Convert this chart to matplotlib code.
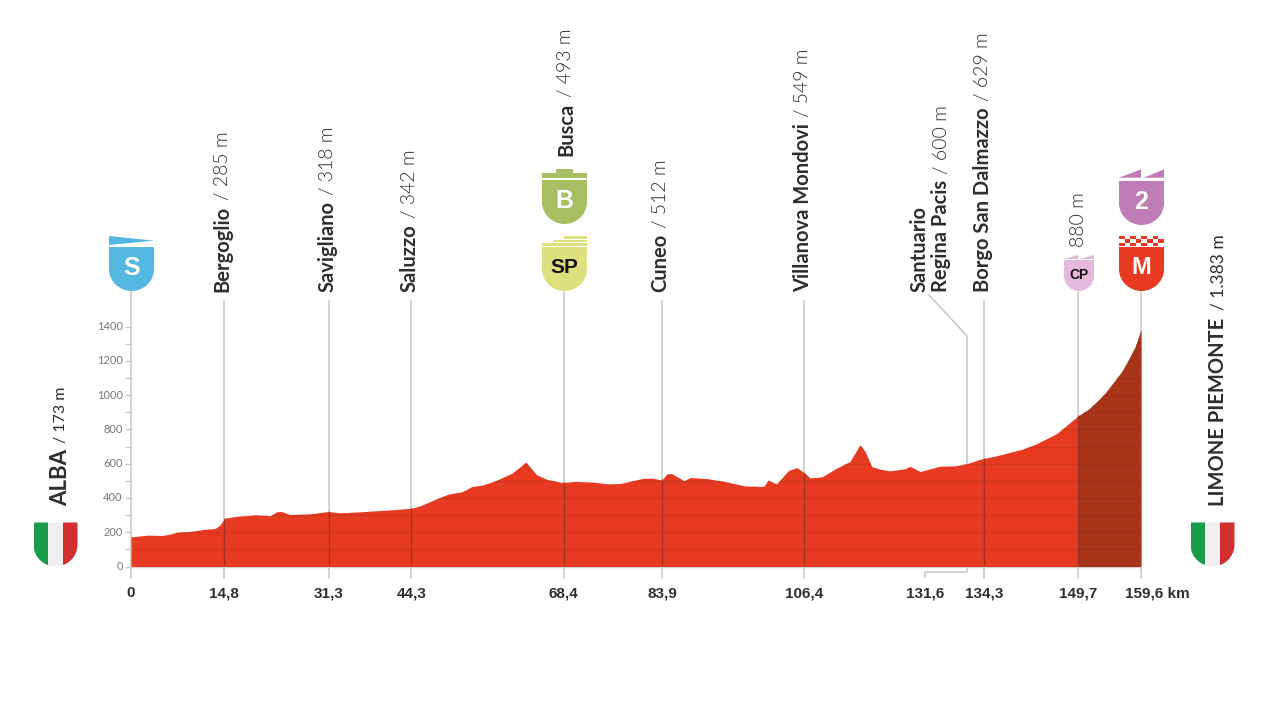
import numpy as np
import matplotlib
matplotlib.use('Agg')
import matplotlib.pyplot as plt
from matplotlib.patches import PathPatch, Polygon, Rectangle
from matplotlib.path import Path

# profile
km = [0, 2.7, 4.9, 6.2, 7.2, 9.3, 11.4, 13.3, 14.1, 14.8, 17, 19.9, 22, 23, 23.8, 25.1, 28.3, 31.2, 33, 36.2,
      40.9, 44.3, 45.7, 48.3, 50.1, 52.3, 53.9, 55.4, 57.3, 60.2, 62.4, 64.1, 65.7, 68.05, 70.4, 73.1, 75.4,
      77.3, 81, 82.5, 83.9, 84.65, 85.45, 87.4, 88.3, 91, 94.1, 97, 100, 100.7, 102, 103.9, 105.2, 106.5,
      107.3, 109.2, 111.5, 113.6, 115.2, 116, 117.06, 118.36, 119.9, 122.3, 123.1, 124.7, 127.8, 130.2,
      132.2, 134.2, 136.8, 141, 143.1, 146.3, 149.7, 151.2, 152.6, 154, 155.2, 156.5, 157.6, 158.7, 159.6]
elev = [173, 183, 181, 189, 200, 204, 216, 222, 243, 282, 294, 301, 296, 319, 321, 303, 307, 321, 313, 319,
        330, 340, 354, 395, 422, 436, 467, 474, 496, 544, 609, 535, 509, 490, 496, 492, 482,
        484, 515, 515, 504, 540, 542, 500, 519, 513, 494, 470, 467, 504, 482, 560, 577, 544,
        517, 523, 574, 612, 710, 671, 583, 568, 558, 570, 585, 554, 585, 587,
        601, 626, 646, 686, 716, 776, 880, 915, 962, 1015, 1073, 1135, 1205, 1285, 1383]

# the drawn marker for 134,3 sits a little right of its true distance in the original
km_ticks = [0, 14.7, 31.3, 44.3, 68.4, 83.9, 106.4, 134.8, 149.7, 159.6]
km_labels = ['0', '14,8', '31,3', '44,3', '68,4', '83,9', '106,4', '134,3', '149,7', '159,6 km']
y_labels = [0, 200, 400, 600, 800, 1000, 1200, 1400]

RED = '#e63b21'
DARK = '#a8341a'
INK = '#2e2e2e'
HEAD = 'Liberation Sans'

fig = plt.figure(figsize=(12.8, 7.2), dpi=100)
ax = fig.add_axes([131 / 1280, (720 - 566.5) / 720, 1010 / 1280, 240 / 720])
ax.set_xlim(0, 159.6)
ax.set_ylim(0, 1400)
ax.axis('off')

# overlay in pixels for labels and shields
ov = fig.add_axes([0, 0, 1, 1], zorder=0)
ov.set_xlim(0, 1280)
ov.set_ylim(720, 0)
ov.axis('off')
ax.set_zorder(1)
ax.patch.set_alpha(0)
renderer = fig.canvas.get_renderer()


def px(k):
    return 131 + k * 1010 / 159.6


def shield_path(x0, y0, w, h):
    x1, xm, y1 = x0 + w, x0 + w / 2, y0 + h
    mid = y0 + h * 0.5
    verts = [(x0, y0), (x1, y0), (x1, mid), (x1, y1 - h * 0.2), (xm + w * 0.25, y1), (xm, y1),
             (xm - w * 0.25, y1), (x0, y1 - h * 0.2), (x0, mid), (x0, y0)]
    codes = [Path.MOVETO, Path.LINETO, Path.LINETO, Path.CURVE4, Path.CURVE4, Path.CURVE4,
             Path.CURVE4, Path.CURVE4, Path.CURVE4, Path.CLOSEPOLY]
    return Path(verts, codes)


def shield(cx, y0, w, h, color, letter, txt='white', size=18):
    ov.add_patch(PathPatch(shield_path(cx - w / 2, y0, w, h), fc=color, ec='none', zorder=3))
    ov.text(cx, y0 + h * 0.47, letter, color=txt, fontsize=size, fontweight='bold', family=HEAD,
            ha='center', va='center', zorder=4)


def flag(x0):
    base = PathPatch(shield_path(x0, 522.5, 44, 44), fc='none', ec='none')
    ov.add_patch(base)
    for i, c in enumerate(['#1a9b4a', '#efefef', '#d22f2f']):
        r = Rectangle((x0 + i * 44 / 3, 522), 44 / 3, 45, fc=c, ec='none')
        ov.add_patch(r)
        r.set_clip_path(base)


def rot_label(x, y_bottom, parts, gap=6):
    # vertical label made of stacked pieces, bold name then thin height
    y = y_bottom
    for s, weight, size, family in parts:
        t = ov.text(x, y, s, rotation=90, ha='center', va='bottom', fontsize=size, fontweight=weight,
                    family=family, color=INK)
        y -= t.get_window_extent(renderer).height + gap


# profile
ax.fill_between(km, 0, elev, where=[k <= 149.7 for k in km], color=RED, lw=0, zorder=2)
ax.fill_between(km, 0, elev, where=[k >= 149.7 for k in km], color=DARK, lw=0, zorder=2)
full_fill = ax.fill_between(km, 0, elev, color='none', lw=0, zorder=2)

stripes = ax.hlines(np.arange(100, 1400, 100), 0, 159.6, color='#8f2410', alpha=0.22, lw=1, zorder=3)
stripes.set_clip_path(full_fill.get_paths()[0], full_fill.get_transform())

# stage markers, grey above the profile and dark inside it
ax.axhline(0, color='#cfcfcf', lw=1, zorder=1, clip_on=False)
for k in km_ticks:
    top = 292 if k in (0, 68.4, 149.7, 159.6) else 301
    ov.plot([px(k), px(k)], [top, 578], color='#c6c6c6', lw=1.1, zorder=1)
dark_lines = ax.vlines(km_ticks[1:-1], -50, 1400, color='#7a2a18', alpha=0.6, lw=1, zorder=4)
dark_lines.set_clip_path(full_fill.get_paths()[0], full_fill.get_transform())

# y scale
for v in range(0, 1500, 100):
    ax.plot([-0.85, 0], [v, v], color='#c9c9c9', lw=1, clip_on=False)
for v in y_labels:
    ax.text(-1.3, v, str(v), ha='right', va='center', fontsize=8, color='#777777', family='Lato', clip_on=False)

# km labels
for k, s in zip(km_ticks, km_labels):
    x, ha = (px(k) - 16, 'left') if s.endswith('km') else (px(k), 'center')
    ov.text(x, 593, s, ha=ha, va='center', fontsize=11, fontweight='bold', family=HEAD, color=INK)
ov.text(925, 593, '131,6', ha='center', va='center', fontsize=11, fontweight='bold', family=HEAD, color=INK)

# Santuario connector
ov.plot([929, 967, 967, 925, 925], [295, 336, 572, 572, 577], color='#c6c6c6', lw=1.1, zorder=1)

# place labels
BOLD = 14.5
THIN = 14
for k, name, h in [(14.7, 'Bergoglio', '/ 285 m'), (31.3, 'Savigliano', '/ 318 m'), (44.3, 'Saluzzo', '/ 342 m'),
                   (83.9, 'Cuneo', '/ 512 m'), (106.4, 'Villanova Mondovi', '/ 549 m'),
                   (134.8, 'Borgo San Dalmazzo', '/ 629 m')]:
    rot_label(px(k) - 1.5, 292, [(name, 'bold', BOLD, 'Lato'), (h, 300, THIN, 'Lato')])
rot_label(566, 156, [('Busca', 'bold', BOLD, 'Lato'), ('/ 493 m', 300, THIN, 'Lato')])
rot_label(920, 292, [('Santuario', 'bold', BOLD, 'Lato')])
rot_label(941, 292, [('Regina Pacis', 'bold', BOLD, 'Lato'), ('/ 600 m', 300, THIN, 'Lato')])
rot_label(1079, 247, [('880 m', 300, THIN, 'Lato')])
rot_label(61, 506, [('ALBA', 'bold', 16, 'Lato'), ('/ 173 m', 'normal', 11.5, 'Lato')])
rot_label(1218, 506, [('LIMONE PIEMONTE', 'bold', 14.5, 'Lato'), ('/ 1.383 m', 'normal', 12.5, 'Lato')], gap=8)

# shields
shield(131.5, 247, 45, 44, '#55b8e0', 'S')
ov.add_patch(Polygon([(109, 236), (154, 240.7), (109, 245)], fc='#55b8e0', ec='none'))

shield(564.5, 180, 45, 44, '#a9bd63', 'B')
ov.add_patch(Rectangle((542, 173), 45, 5, fc='#a9bd63', ec='none'))
ov.add_patch(Rectangle((556, 169), 17, 5, fc='#a9bd63', ec='none'))

shield(564.5, 247, 45, 44, '#dde07f', 'SP', txt='#111111', size=15)
ov.add_patch(Rectangle((542, 243), 45, 3, fc='#dde07f', ec='none'))
ov.add_patch(Rectangle((553, 239.5), 34, 2.5, fc='#dde07f', ec='none'))
ov.add_patch(Rectangle((564, 236), 23, 2.5, fc='#dde07f', ec='none'))

shield(1141.5, 181, 45, 44, '#bf7cb6', '2')
ov.add_patch(Polygon([(1119, 177.7), (1141, 169.3), (1141, 177.7)], fc='#bf7cb6', ec='none'))
ov.add_patch(Polygon([(1143.7, 177.7), (1164, 169.3), (1164, 177.7)], fc='#bf7cb6', ec='none'))

shield(1141.5, 247, 45, 44, RED, 'M', size=17)
for row in range(3):
    for col in range(8):
        if (row + col) % 2 == 0:
            ov.add_patch(Rectangle((1119 + col * 5.6, 236 + row * 3.4), 5.6, 3.4, fc=RED, ec='none'))

shield(1079, 260, 30, 31, '#e5b9dc', 'CP', txt='#111111', size=10)
ov.add_patch(Polygon([(1064, 259), (1078, 255), (1078, 259)], fc='#e5b9dc', ec='none'))
ov.add_patch(Polygon([(1080, 259), (1094, 255), (1094, 259)], fc='#e5b9dc', ec='none'))

flag(33.5)
flag(1190.5)

fig.savefig('out.png', dpi=100)
